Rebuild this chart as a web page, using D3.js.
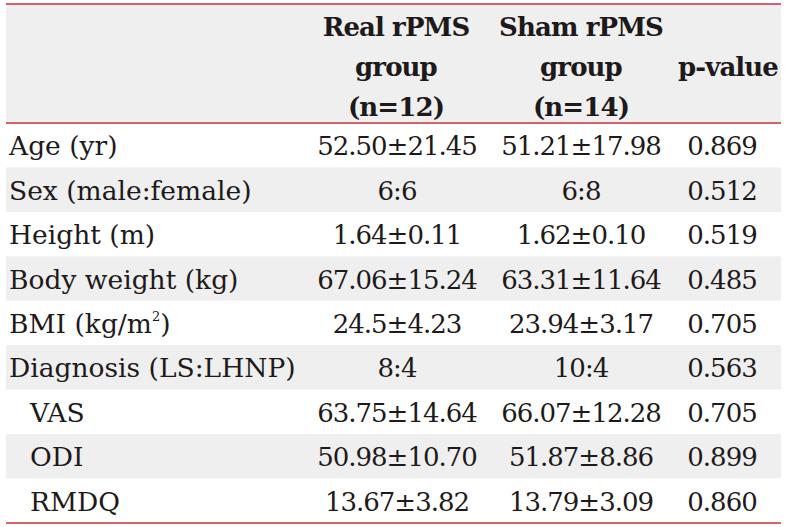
<!DOCTYPE html>
<html><head><meta charset="utf-8">
<script src="https://cdn.jsdelivr.net/npm/d3@7"></script>
<style>html,body{margin:0;padding:0;background:#fff;}svg{display:block;}</style>
</head><body>
<svg id="chart" width="786" height="527"></svg>
<script>
const headers = [["Real rPMS","group","(n=12)"],["Sham rPMS","group","(n=14)"],["p-value"]];
const rowLabels = ["Age (yr)","Sex (male:female)","Height (m)","Body weight (kg)","BMI (kg/m|2|)","Diagnosis (LS:LHNP)","VAS","ODI","RMDQ"];
const indented = [false,false,false,false,false,false,true,true,true];
const realValues = ["52.50±21.45","6:6","1.64±0.11","67.06±15.24","24.5±4.23","8:4","63.75±14.64","50.98±10.70","13.67±3.82"];
const shamValues = ["51.21±17.98","6:8","1.62±0.10","63.31±11.64","23.94±3.17","10:4","66.07±12.28","51.87±8.86","13.79±3.09"];
const pValues = ["0.869","0.512","0.519","0.485","0.705","0.563","0.705","0.899","0.860"];

(function(){
const svg = d3.select("#chart");
const L = 6, R = 781, T = 4, HB = 123, B = 523;
const font = "'DejaVu Serif', serif";
const red = "#c7323d", grey = "#efefef", ink = "#1e1a1b";
const colCenters = [397, 581, 722];

const y = d3.scaleBand().domain(d3.range(rowLabels.length)).range([HB, B]);

svg.append("rect").attr("x", L).attr("y", T).attr("width", R-L).attr("height", HB-T).attr("fill", grey);
svg.selectAll("rect.row").data(d3.range(rowLabels.length)).join("rect")
  .attr("class","row").attr("x", L).attr("y", d => y(d)).attr("width", R-L).attr("height", y.bandwidth())
  .attr("fill", d => d % 2 === 1 ? grey : "#fff");

const hx = [396, 581, 728];
headers.forEach((lines, i) => {
  const n = lines.length;
  const lh = 40, mid = (T + HB)/2 + 3;
  lines.forEach((t, j) => {
    svg.append("text").attr("x", hx[i]).attr("y", mid + (j - (n-1)/2)*lh)
      .attr("text-anchor","middle").attr("dominant-baseline","central")
      .attr("font-family", font).attr("font-weight","bold").attr("font-size", 26)
      .attr("letter-spacing", -0.9)
      .attr("fill", ink).text(t);
  });
});

rowLabels.forEach((lab, i) => {
  const t = svg.append("text").attr("x", indented[i] ? 30 : 9).attr("y", y(i) + y.bandwidth()/2 + 10)
    .attr("font-family", font).attr("font-size", 26.5).attr("fill", ink);
  const parts = lab.split("|");
  parts.forEach((p, k) => {
    if (k % 2 === 1) t.append("tspan").attr("font-size", 13).attr("dy", -12).text(p);
    else t.append("tspan").attr("dy", k > 0 ? 12 : 0).text(p);
  });
});

[realValues, shamValues, pValues].forEach((col, c) => {
  svg.selectAll(null).data(col).join("text")
    .attr("x", colCenters[c]).attr("y", (d,i) => y(i) + y.bandwidth()/2 + 10)
    .attr("text-anchor","middle").attr("font-family", font).attr("font-size", 26)
    .attr("letter-spacing", -1).attr("fill", ink)
    .text(d => d);
});

[T, HB, B].forEach(v => {
  svg.append("line").attr("x1", L).attr("x2", R).attr("y1", v).attr("y2", v)
    .attr("stroke", red).attr("stroke-width", 1.6);
});
})();
</script>
</body></html>
